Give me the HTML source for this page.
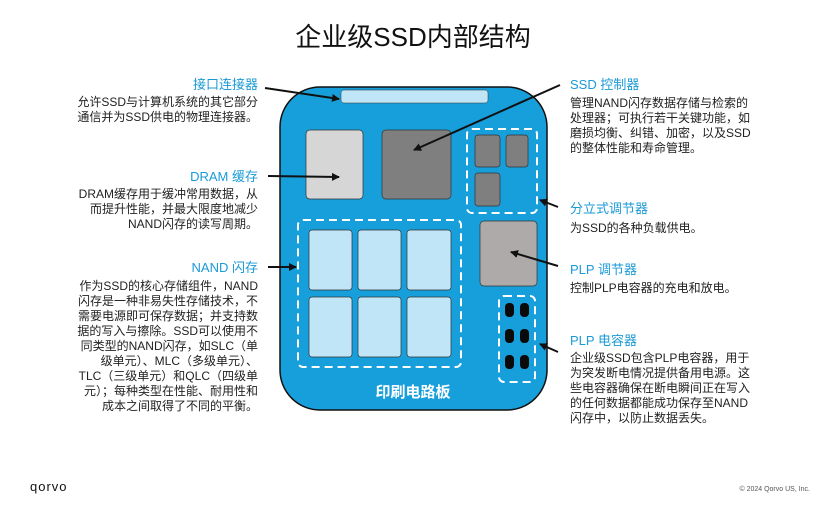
<!DOCTYPE html>
<html><head><meta charset="utf-8"><style>
html,body{margin:0;padding:0;background:#fff;}
svg{display:block;}
text{font-family:"Liberation Sans","Noto Sans CJK SC",sans-serif;}
.t{fill:#1a9ad6;font-size:13px;}
.b{fill:#222;font-size:12px;}
</style></head><body>
<svg width="840" height="507" viewBox="0 0 840 507" xmlns="http://www.w3.org/2000/svg">
<defs><marker id="a" markerWidth="8" markerHeight="8" refX="7" refY="4" orient="auto" markerUnits="userSpaceOnUse"><path d="M0,0 L8,4 L0,8 z" fill="#111"/></marker></defs>
<text x="413" y="46" text-anchor="middle" font-size="26" fill="#111">企业级SSD内部结构</text>
<rect x="280" y="87" width="267" height="323" rx="40" fill="#179fdb" stroke="#111" stroke-width="1.5"/>
<rect x="341" y="90" width="147" height="13" rx="3" fill="#bfe5f6" stroke="#333" stroke-width="0.5"/>
<rect x="306" y="130" width="57" height="69" rx="4" fill="#d6d6d6" stroke="#333" stroke-width="0.7"/>
<rect x="382" y="130" width="69" height="69" rx="4" fill="#7f7f7f" stroke="#333" stroke-width="0.7"/>
<rect x="467" y="129" width="70" height="84" rx="5" fill="none" stroke="#fff" stroke-width="2" stroke-dasharray="8,5"/>
<rect x="475" y="135" width="25" height="32" rx="3" fill="#7f7f7f" stroke="#333" stroke-width="0.7"/>
<rect x="506" y="135" width="22" height="32" rx="3" fill="#7f7f7f" stroke="#333" stroke-width="0.7"/>
<rect x="475" y="173" width="25" height="33" rx="3" fill="#7f7f7f" stroke="#333" stroke-width="0.7"/>
<rect x="298" y="220" width="163" height="147" rx="5" fill="none" stroke="#fff" stroke-width="2" stroke-dasharray="8,5"/>
<g fill="#bfe5f6" stroke="#333" stroke-width="0.7">
<rect x="309" y="230" width="43" height="60" rx="3"/><rect x="358" y="230" width="43" height="60" rx="3"/><rect x="407" y="230" width="44" height="60" rx="3"/>
<rect x="309" y="297" width="43" height="60" rx="3"/><rect x="358" y="297" width="43" height="60" rx="3"/><rect x="407" y="297" width="44" height="60" rx="3"/>
</g>
<rect x="480" y="221" width="57" height="65" rx="4" fill="#aeaaaa" stroke="#333" stroke-width="0.7"/>
<rect x="499" y="296" width="36" height="86" rx="5" fill="none" stroke="#fff" stroke-width="2" stroke-dasharray="8,5"/>
<g fill="#0a0a0a">
<rect x="505" y="303" width="9" height="14" rx="4"/><rect x="520" y="303" width="9" height="14" rx="4"/>
<rect x="505" y="329" width="9" height="14" rx="4"/><rect x="520" y="329" width="9" height="14" rx="4"/>
<rect x="505" y="355" width="9" height="14" rx="4"/><rect x="520" y="355" width="9" height="14" rx="4"/>
</g>
<text x="413" y="397" text-anchor="middle" font-size="15" font-weight="bold" fill="#fff">印刷电路板</text>
<g stroke="#111" stroke-width="2" marker-end="url(#a)">
<line x1="265" y1="88" x2="339" y2="99"/>
<line x1="560" y1="85" x2="414" y2="150"/>
<line x1="268" y1="176" x2="339" y2="177"/>
<line x1="268" y1="267" x2="296" y2="267"/>
<line x1="558" y1="207" x2="540" y2="200"/>
<line x1="558" y1="266" x2="511" y2="252"/>
<line x1="558" y1="352" x2="540" y2="344"/>
</g>
<g text-anchor="end">
<text class="t" x="258" y="89">接口连接器</text>
<text class="b" x="258" y="106">允许SSD与计算机系统的其它部分</text>
<text class="b" x="258" y="121">通信并为SSD供电的物理连接器。</text>
<text class="t" x="258" y="181">DRAM 缓存</text>
<text class="b" x="258" y="198">DRAM缓存用于缓冲常用数据，从</text>
<text class="b" x="258" y="213">而提升性能，并最大限度地减少</text>
<text class="b" x="258" y="228">NAND闪存的读写周期。</text>
<text class="t" x="258" y="272">NAND 闪存</text>
<text class="b" x="258" y="290">作为SSD的核心存储组件，NAND</text>
<text class="b" x="258" y="305">闪存是一种非易失性存储技术，不</text>
<text class="b" x="258" y="320">需要电源即可保存数据；并支持数</text>
<text class="b" x="258" y="335">据的写入与擦除。SSD可以使用不</text>
<text class="b" x="258" y="350">同类型的NAND闪存，如SLC（单</text>
<text class="b" x="258" y="365">级单元）、MLC（多级单元）、</text>
<text class="b" x="258" y="380">TLC（三级单元）和QLC（四级单</text>
<text class="b" x="258" y="395">元）；每种类型在性能、耐用性和</text>
<text class="b" x="258" y="410">成本之间取得了不同的平衡。</text>
</g>
<text class="t" x="570" y="89">SSD 控制器</text>
<text class="b" x="570" y="107">管理NAND闪存数据存储与检索的</text>
<text class="b" x="570" y="122">处理器；可执行若干关键功能，如</text>
<text class="b" x="570" y="137">磨损均衡、纠错、加密，以及SSD</text>
<text class="b" x="570" y="152">的整体性能和寿命管理。</text>
<text class="t" x="570" y="213">分立式调节器</text>
<text class="b" x="570" y="232">为SSD的各种负载供电。</text>
<text class="t" x="570" y="274">PLP 调节器</text>
<text class="b" x="570" y="292">控制PLP电容器的充电和放电。</text>
<text class="t" x="570" y="345">PLP 电容器</text>
<text class="b" x="570" y="362">企业级SSD包含PLP电容器，用于</text>
<text class="b" x="570" y="377">为突发断电情况提供备用电源。这</text>
<text class="b" x="570" y="392">些电容器确保在断电瞬间正在写入</text>
<text class="b" x="570" y="407">的任何数据都能成功保存至NAND</text>
<text class="b" x="570" y="422">闪存中，以防止数据丢失。</text>
<text x="30" y="491" font-size="13" fill="#111" letter-spacing="1">qorvo</text>
<text x="810" y="491" text-anchor="end" font-size="7" fill="#555">© 2024 Qorvo US, Inc.</text>
</svg>
</body></html>
